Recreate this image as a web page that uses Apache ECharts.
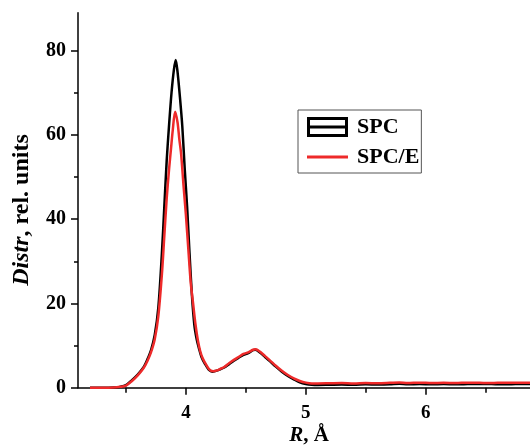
<!DOCTYPE html>
<html><head><meta charset="utf-8">
<script src="https://cdn.jsdelivr.net/npm/echarts@6/dist/echarts.min.js"></script>
<style>html,body{margin:0;padding:0;background:#fff}#c{width:530px;height:447px}</style>
</head><body><div id="c"></div>
<script>
// SPC curve
var rSPC = [3.20,3.30,3.40,3.45,3.50,3.55,3.60,3.65,3.68,3.71,3.74,3.77,3.80,3.82,3.84,3.86,3.88,3.90,3.915,3.93,3.95,3.97,3.99,4.01,4.03,4.05,4.07,4.09,4.11,4.13,4.16,4.19,4.22,4.25,4.28,4.32,4.36,4.40,4.44,4.48,4.52,4.56,4.58,4.62,4.66,4.70,4.75,4.80,4.85,4.90,4.95,5.00,5.05,5.10,5.20,5.30,5.40,5.50,5.60,5.70,5.78,5.85,5.95,6.05,6.15,6.25,6.35,6.45,6.55,6.65,6.75,6.87];
var dSPC = [0,0,0.05,0.2,0.6,1.8,3.2,5.0,6.8,9.0,12.5,19,32,43,54,62.5,70,75.5,77.8,75,69,62,52,43,32,22,15,11.5,9.2,7.3,5.6,4.3,3.8,4.0,4.3,4.8,5.6,6.4,7.1,7.8,8.2,8.9,9.0,8.3,7.3,6.3,5.0,3.8,2.8,2.0,1.3,0.9,0.7,0.65,0.7,0.75,0.7,0.8,0.75,0.8,0.95,0.8,0.85,0.8,0.85,0.8,0.85,0.9,0.85,0.8,0.85,0.9];
// SPC/E curve
var rSPCE = [3.20,3.30,3.40,3.45,3.50,3.55,3.60,3.65,3.68,3.71,3.74,3.77,3.80,3.82,3.84,3.86,3.875,3.89,3.91,3.93,3.945,3.96,3.98,4.00,4.02,4.04,4.06,4.08,4.10,4.12,4.14,4.17,4.20,4.23,4.26,4.29,4.32,4.36,4.40,4.44,4.48,4.52,4.56,4.58,4.62,4.66,4.70,4.75,4.80,4.85,4.90,4.95,5.00,5.05,5.10,5.20,5.30,5.40,5.50,5.60,5.70,5.78,5.85,5.95,6.05,6.15,6.25,6.35,6.45,6.55,6.65,6.75,6.87];
var dSPCE = [0,0,0.05,0.2,0.5,1.6,3.0,4.8,6.4,8.5,11.5,17,27,36,45,52,56.5,61,65.5,63,59,55.5,48,41,33,25,20,15,11.2,8.6,7.0,5.4,4.2,3.9,4.1,4.5,4.9,5.8,6.6,7.3,8.0,8.4,9.0,9.1,8.5,7.5,6.5,5.2,4.0,3.0,2.2,1.6,1.2,1.0,1.0,1.05,1.1,1.0,1.1,1.05,1.15,1.25,1.1,1.2,1.1,1.15,1.1,1.2,1.15,1.1,1.2,1.15,1.2];
var xMajor = [4,5,6];
var xMinor = [3.5,4.5,5.5,6.5];
var yMajor = [0,20,40,60,80];
var yMinor = [10,30,50,70];
var seriesNames = ['SPC','SPC/E'];
var xTitle = '{i|R}, Å';
var yTitle = '{i|Distr}, rel. units';

function pairs(r, d){ return r.map(function(v,i){ return [v, d[i]]; }); }

var FONT = 'Liberation Serif';
var XMIN = 3.1, XMAX = 6.87, YMIN = 0, YMAX = 89;
var chart = echarts.init(document.getElementById('c'));
function titleStyle(size){
  return {fontFamily: FONT, fontWeight: 'bold', fontSize: size, fill: '#000',
    rich: {i: {fontFamily: FONT, fontWeight: 'bold', fontStyle: 'italic', fontSize: size, fill: '#000', color: '#000'}}};
}
var ys = titleStyle(24); ys.text = yTitle; ys.align = 'center'; ys.verticalAlign = 'middle';
var xs = titleStyle(21); xs.text = xTitle; xs.align = 'center'; xs.verticalAlign = 'middle';
chart.setOption({
  animation: false,
  backgroundColor: '#fff',
  grid: {left: 78, right: 0, top: 12.7, bottom: 59.3, containLabel: false},
  graphic: [
    {type: 'text', x: 22, y: 210, rotation: Math.PI / 2, style: ys},
    {type: 'text', x: 309, y: 436, style: xs}
  ],
  legend: {
    orient: 'vertical', left: 298, top: 110,
    borderColor: '#555', borderWidth: 1, padding: [6, 2, 5, 9],
    itemWidth: 41, itemHeight: 20, itemGap: 8,
    textStyle: {fontFamily: FONT, fontWeight: 'bold', fontSize: 22, color: '#000', padding: [0,0,0,4]},
    itemStyle: {borderWidth: 0},
    data: [
      {name: seriesNames[0], icon: 'path://M0 0L41 0L41 3L0 3Z M0 17L41 17L41 20L0 20Z M0 0L3 0L3 20L0 20Z M38 0L41 0L41 20L38 20Z M0 8.5L41 8.5L41 11.5L0 11.5Z'},
      {name: seriesNames[1], icon: 'path://M0 0L41 0L41 3L0 3Z'}
    ]
  },
  xAxis: [{
    type: 'value', min: XMIN, max: XMAX,
    axisLine: {show: true, lineStyle: {color: '#000', width: 1.5}},
    axisTick: {show: true, inside: false, length: 7, lineStyle: {color: '#000', width: 1.5}, customValues: xMajor},
    axisLabel: {show: true, margin: 16, fontFamily: FONT, fontWeight: 'bold', fontSize: 19, color: '#000', customValues: xMajor},
    splitLine: {show: false}
  }, {
    type: 'value', min: XMIN, max: XMAX, position: 'bottom',
    axisLine: {show: false},
    axisTick: {show: true, inside: false, length: 5, lineStyle: {color: '#000', width: 1.5}, customValues: xMinor},
    axisLabel: {show: false},
    splitLine: {show: false}
  }],
  yAxis: [{
    type: 'value', min: YMIN, max: YMAX,
    axisLine: {show: true, lineStyle: {color: '#000', width: 1.5}},
    axisTick: {show: true, inside: false, length: 7, lineStyle: {color: '#000', width: 1.5}, customValues: yMajor},
    axisLabel: {show: true, margin: 12, fontFamily: FONT, fontWeight: 'bold', fontSize: 20, color: '#000', customValues: yMajor},
    splitLine: {show: false}
  }, {
    type: 'value', min: YMIN, max: YMAX, position: 'left',
    axisLine: {show: false},
    axisTick: {show: true, inside: false, length: 4, lineStyle: {color: '#000', width: 1.5}, customValues: yMinor},
    axisLabel: {show: false},
    splitLine: {show: false}
  }],
  series: [{
    name: seriesNames[0], type: 'line', xAxisIndex: 0, yAxisIndex: 0,
    data: pairs(rSPC, dSPC), showSymbol: false, symbol: 'none', smooth: 0.3,
    color: '#000', lineStyle: {color: '#000', width: 2.5}, z: 2
  }, {
    name: seriesNames[1], type: 'line', xAxisIndex: 0, yAxisIndex: 0,
    data: pairs(rSPCE, dSPCE), showSymbol: false, symbol: 'none', smooth: 0.3,
    color: '#ee2a2a', lineStyle: {color: '#ee2a2a', width: 2.5}, z: 3
  }]
});
</script></body></html>
